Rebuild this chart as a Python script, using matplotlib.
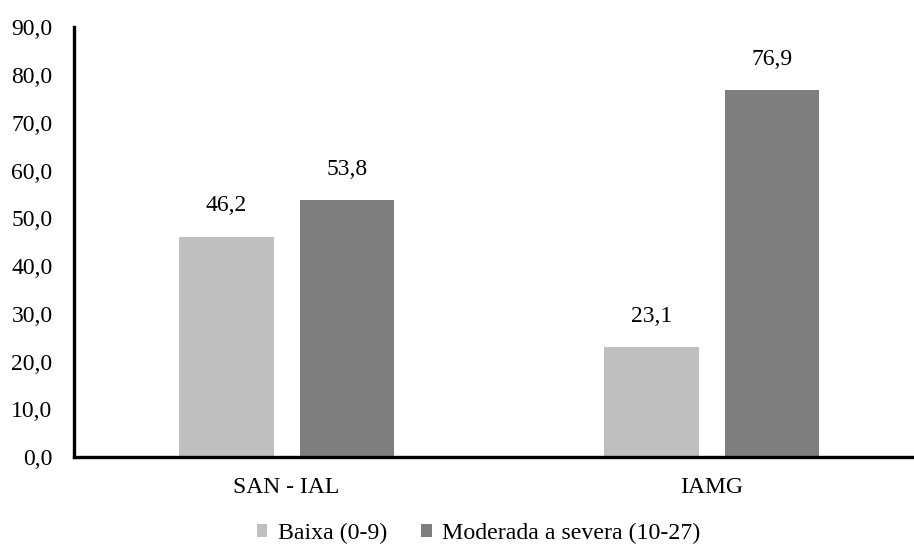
import numpy as np
import matplotlib
matplotlib.use('Agg')
import matplotlib.pyplot as plt
from matplotlib.ticker import FuncFormatter

# Dados
categorias = ['SAN - IAL', 'IAMG']
series = ['Baixa (0-9)', 'Moderada a severa (10-27)']
baixa = [46.2, 23.1]
moderada = [53.8, 76.9]
cores = ['#bfbfbf', '#7f7f7f']

plt.rcParams['font.family'] = ['Liberation Serif', 'DejaVu Serif']
plt.rcParams['font.size'] = 17

fig = plt.figure(figsize=(9.14, 5.45), dpi=100)
ax = fig.add_axes([0.081, 0.161, 0.93, 0.789])

x = np.arange(len(categorias))
largura = 0.223
desloc = 0.142

for valores, cor, nome, d in zip([baixa, moderada], cores, series, [-desloc, desloc]):
    barras = ax.bar(x + d, valores, width=largura, color=cor, label=nome)
    for b, v in zip(barras, valores):
        ax.text(b.get_x() + b.get_width() / 2, v + 4.2, f'{v:.1f}'.replace('.', ','),
                ha='center', va='bottom')

ax.set_ylim(0, 90)
ax.set_xlim(-0.5, 1.5)
ax.set_yticks(np.arange(0, 91, 10))
ax.yaxis.set_major_formatter(FuncFormatter(lambda v, p: f'{v:.1f}'.replace('.', ',')))
ax.set_xticks(x)
ax.set_xticklabels(categorias)
ax.tick_params(axis='y', length=0, pad=15.5)
ax.tick_params(axis='x', length=0, pad=14)

for s in ['top', 'right']:
    ax.spines[s].set_visible(False)
for s in ['left', 'bottom']:
    ax.spines[s].set_linewidth(2.4)
    ax.spines[s].set_color('black')

ax.legend(loc='center', bbox_to_anchor=(0.476, -0.178), ncol=2, frameon=False,
          handlelength=0.45, handleheight=0.45, handletextpad=0.45, columnspacing=1.4,
          borderaxespad=0, fontsize=17.2)

fig.savefig('out.png', dpi=100)
